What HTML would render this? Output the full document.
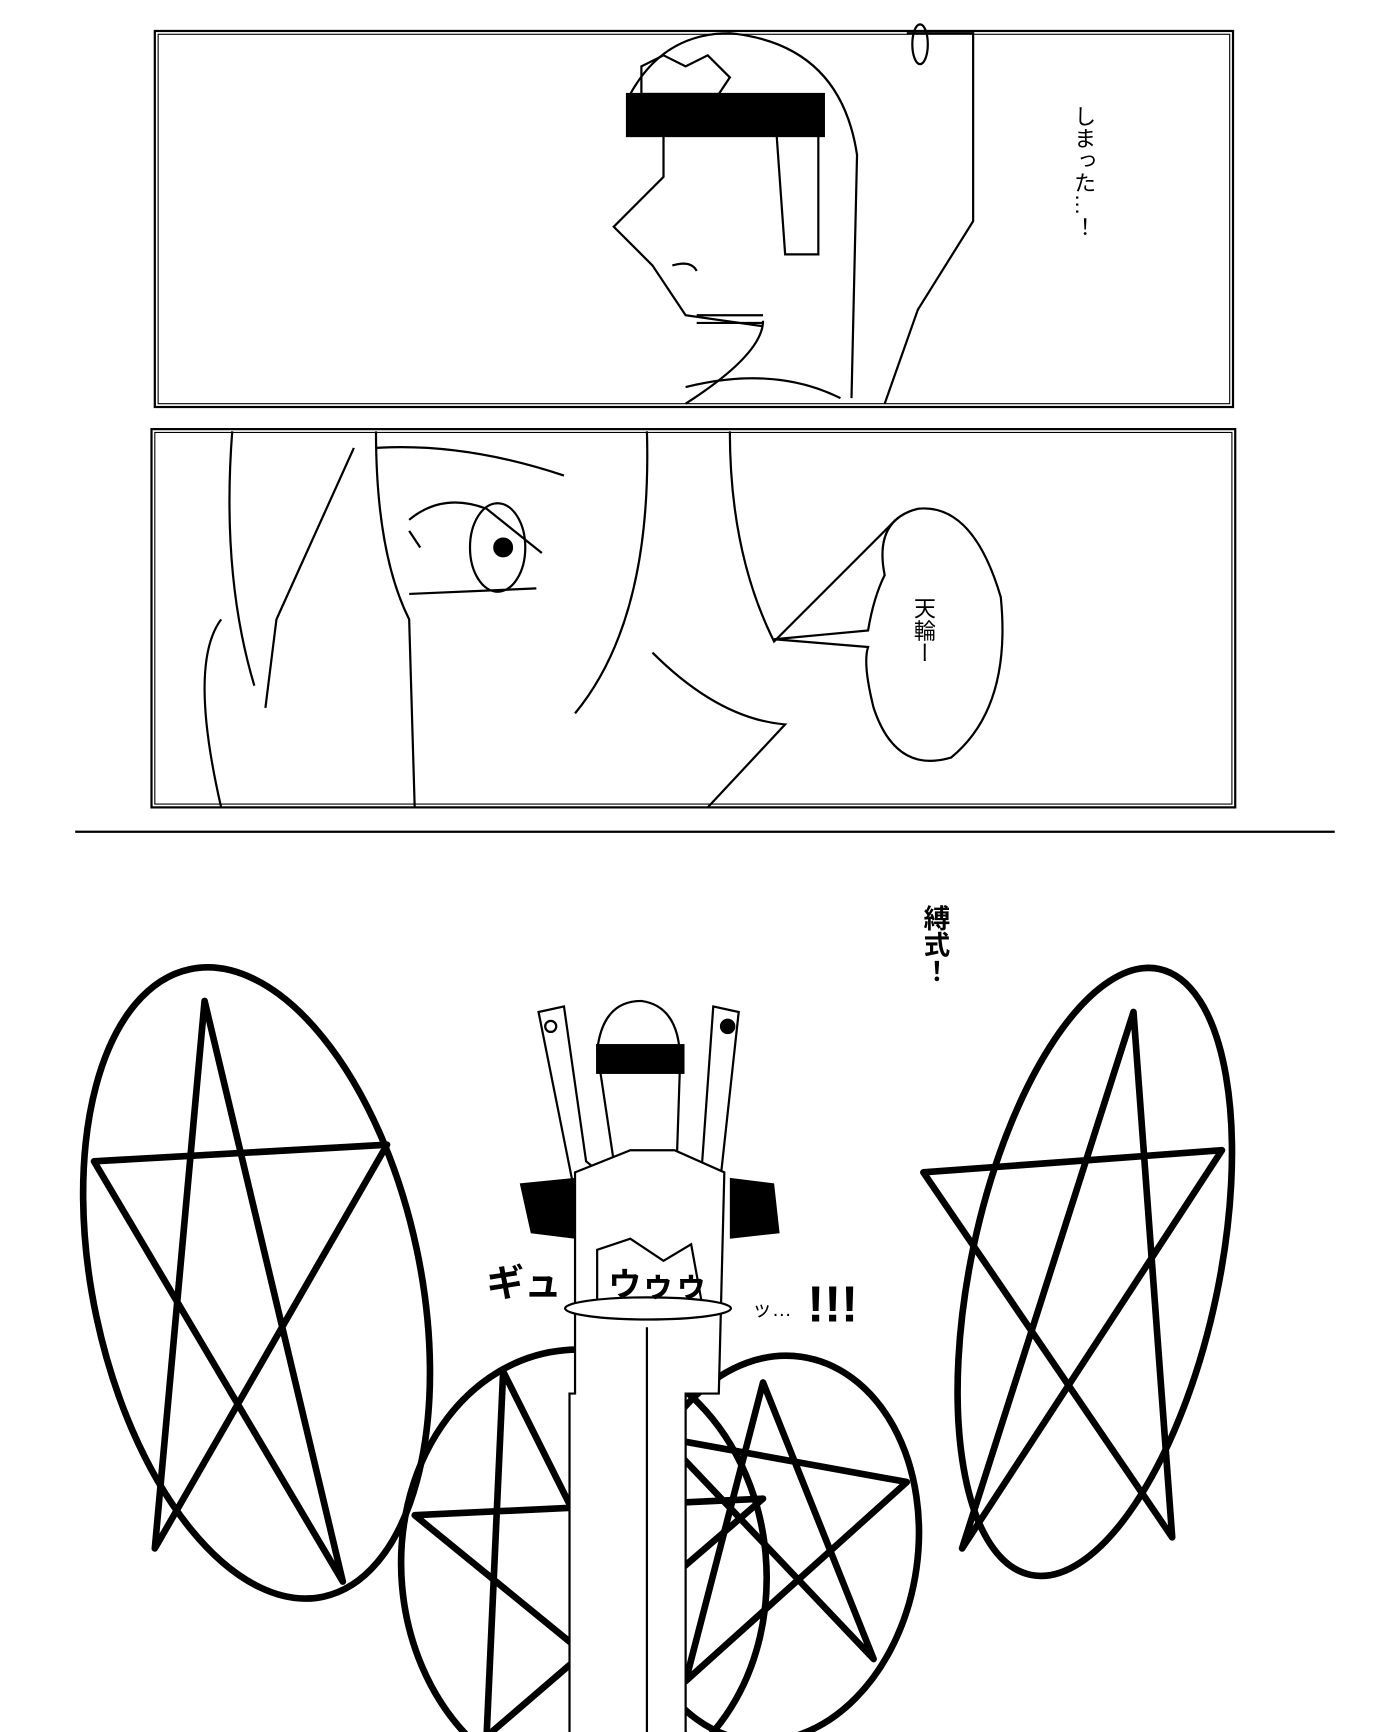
<!DOCTYPE html>
<html><head><meta charset="utf-8"><style>
html,body{margin:0;padding:0;background:#fff;}
svg{display:block;}
text{font-family:"Liberation Sans","Noto Sans CJK JP",sans-serif;}
</style></head><body>
<svg width="1400" height="1732" viewBox="0 0 1266 1566" preserveAspectRatio="none" xmlns="http://www.w3.org/2000/svg">
<rect width="1266" height="1566" fill="#fff"/>
<g fill="none" stroke="#000" stroke-width="2">
<rect x="140" y="28" width="975" height="340"/>
<rect x="143" y="31" width="969" height="334" stroke-width="1"/>
<rect x="137" y="388" width="980" height="342"/>
<rect x="140" y="391" width="974" height="336" stroke-width="1"/>
<line x1="68" y1="752" x2="1207" y2="752"/>
<path d="M570 85 Q600 30 660 30 Q760 40 775 140 L770 360" />
<path d="M580 60 L600 50 L620 60 L640 50 L660 70 L650 85 L580 85 Z"/>
<rect x="567" y="85" width="178" height="38" fill="#000"/>
<path d="M600 123 L600 160 L555 205 L590 240 L620 285 L690 295"/>
<path d="M700 90 L740 90 L740 230 L710 230 Z"/>
<path d="M690 290 Q690 320 620 365"/>
<path d="M620 350 Q700 330 760 360"/>
<path d="M820 30 L880 30 L880 200 L830 280 L800 365"/>
<ellipse cx="832" cy="40" rx="7" ry="18"/>
<path d="M608 240 Q625 235 630 245"/>
<path d="M630 285 L690 285 M630 292 L690 292"/>
<path d="M210 390 Q200 520 230 620 M200 560 Q170 600 200 730"/>
<path d="M340 390 Q340 500 370 560 L375 730"/>
<path d="M340 405 Q420 400 510 430"/>
<path d="M370 470 Q400 445 440 460 L490 500"/>
<path d="M370 480 L380 495"/>
<ellipse cx="450" cy="495" rx="25" ry="40"/>
<circle cx="455" cy="495" r="8" fill="#000"/>
<path d="M370 537 L485 532"/>
<path d="M585 390 Q590 560 520 645 M660 390 Q660 500 700 580 L810 470"/>
<path d="M590 590 Q650 650 710 655 L640 730"/>
<path d="M320 405 L250 560 L240 640"/>
<path d="M800 520 Q790 470 830 460 Q880 455 905 540 Q915 640 860 685 Q810 700 790 640 Q780 600 785 585 L700 578 L785 570 Q790 540 800 520 Z"/>
</g>
<g fill="none" stroke="#000" stroke-width="6" stroke-linejoin="round">
<ellipse cx="232" cy="1160" rx="148" ry="290" transform="rotate(-12 232 1160)"/>
<path d="M185 905 L310 1430 L85 1050 L350 1035 L140 1400 Z"/>
<ellipse cx="990" cy="1150" rx="112" ry="280" transform="rotate(12 990 1150)"/>
<path d="M1025 915 L870 1400 L1105 1040 L835 1060 L1060 1390 Z"/>
<ellipse cx="528" cy="1420" rx="165" ry="200" transform="rotate(-5 528 1420)"/>
<path d="M455 1240 L620 1570 L375 1370 L690 1355 L440 1570 Z"/>
<ellipse cx="700" cy="1400" rx="130" ry="175" transform="rotate(8 700 1400)"/>
<path d="M690 1250 L790 1500 L600 1300 L820 1340 L620 1520 Z"/>
</g>
<g fill="#fff" stroke="#000" stroke-width="2">
<path d="M487 915 L510 910 L530 1050 L555 1070 L520 1080 Z"/>
<path d="M645 910 L668 915 L650 1080 L610 1070 L635 1050 Z"/>
<circle cx="498" cy="928" r="5"/><circle cx="658" cy="928" r="6" fill="#000"/>
<path d="M540 950 Q545 905 580 905 Q615 910 615 960 L612 1050 L555 1050 Z"/>
<rect x="540" y="945" width="78" height="25" fill="#000"/>
<path d="M520 1060 L570 1040 L610 1040 L655 1060 L650 1260 L620 1260 L620 1584 L515 1584 L515 1260 L520 1260 Z"/>
<path d="M540 1130 L570 1120 L600 1140 L625 1125 L635 1180 L540 1180 Z"/>
<ellipse cx="586" cy="1183" rx="75" ry="10"/>
<path d="M585 1200 L585 1584"/>
</g>
<path d="M470 1070 L520 1065 L520 1120 L480 1115 Z M660 1065 L700 1070 L705 1115 L660 1120 Z" fill="#000"/>
<g font-size="22" fill="#000">
<text x="980" y="95" style="writing-mode:vertical-rl" font-size="20">しまった…！</text>
<text x="835" y="540" style="writing-mode:vertical-rl" font-size="20">天輪ー</text>
<text x="845" y="818" style="writing-mode:vertical-rl" font-size="24" font-weight="bold">縛式！</text>
<text x="440" y="1172" font-size="34" font-weight="bold">ギュ</text>
<text x="550" y="1172" font-size="30" font-weight="bold">ウゥゥ</text>
<text x="680" y="1190" font-size="18">ッ…</text>
<text x="730" y="1195" font-size="46" font-weight="bold">!!!</text>
</g>
</svg>
</body></html>
